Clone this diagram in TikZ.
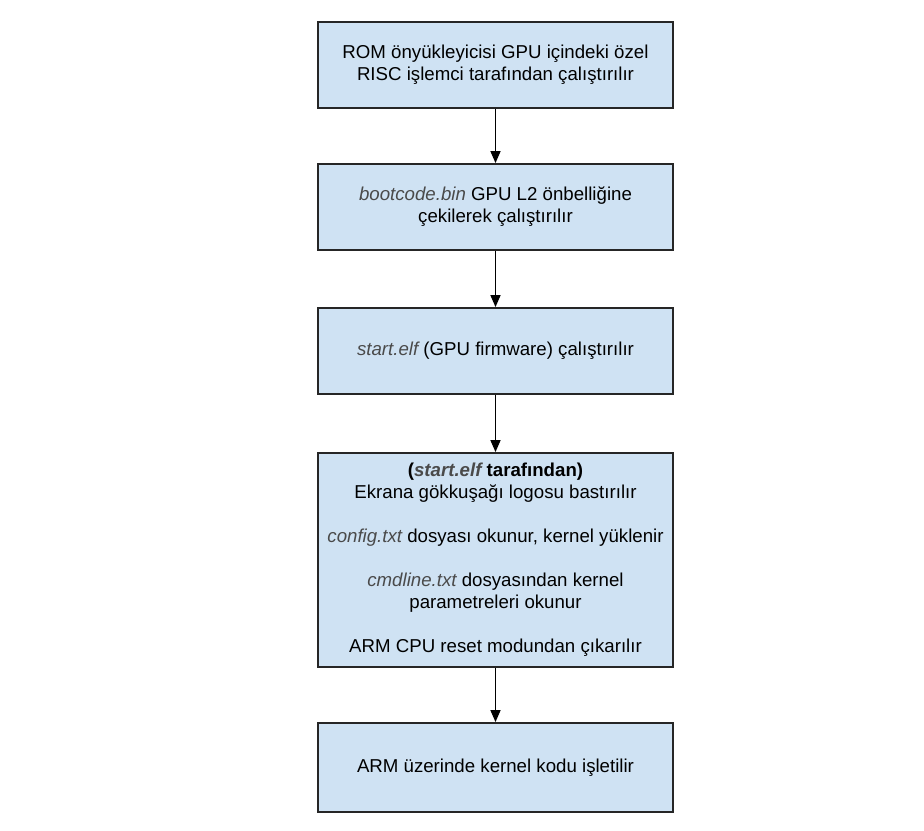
\documentclass[tikz,border=0pt]{standalone}
\usepackage{fontspec}
\setmainfont{Liberation Sans}
\usetikzlibrary{arrows.meta}
\definecolor{boxfill}{HTML}{CFE2F3}
\definecolor{itgray}{HTML}{4A4A4A}
\newcommand{\fn}[1]{{\itshape\color{itgray}#1}}
\begin{document}
\begin{tikzpicture}[x=0.75pt,y=-0.75pt,
  stepbox/.style={draw=black!85,line width=1.4pt,fill=boxfill,minimum width=355*0.75pt,
    align=center,font=\fontsize{14}{16.5}\selectfont,inner sep=0pt},
  conn/.style={line width=1.2pt,-{Triangle[width=7.5pt,length=9pt]}}]
\useasboundingbox (0,0) rectangle (924,831);
\node[stepbox,minimum height=86*0.75pt] (b1) at (495.5,65) {ROM önyükleyicisi GPU içindeki özel\\RISC işlemci tarafından çalıştırılır};
\node[stepbox,minimum height=86*0.75pt] (b2) at (495.5,207) {\fn{bootcode.bin} GPU L2 önbelliğine\\çekilerek çalıştırılır};
\node[stepbox,minimum height=86*0.75pt] (b3) at (495.5,351) {\fn{start.elf} (GPU firmware) çalıştırılır};
\node[stepbox,minimum height=214*0.75pt] (b4) at (495.5,560) {\textbf{(\fn{start.elf} tarafından)}\\Ekrana gökkuşağı logosu bastırılır\\[16.5pt]\fn{config.txt} dosyası okunur, kernel yüklenir\\[16.5pt]\fn{cmdline.txt} dosyasından kernel\\parametreleri okunur\\[16.5pt]ARM CPU reset modundan çıkarılır};
\node[stepbox,minimum height=89*0.75pt] (b5) at (495.5,767.5) {ARM üzerinde kernel kodu işletilir};
\draw[conn] (b1) -- (b2);
\draw[conn] (b2) -- (b3);
\draw[conn] (b3) -- (b4);
\draw[conn] (b4) -- (b5);
\end{tikzpicture}
\end{document}
